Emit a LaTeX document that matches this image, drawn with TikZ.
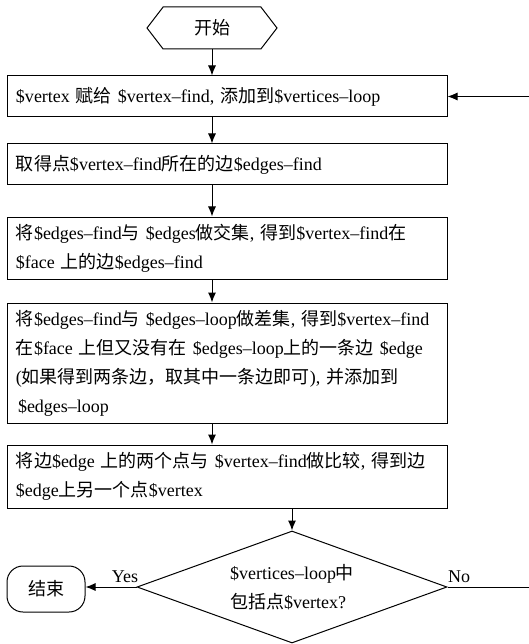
\documentclass[tikz,border=0pt]{standalone}
\usepackage{fontspec}
\setmainfont{Liberation Serif}
\newfontfamily\cjk{Noto Sans CJK SC}
\newcommand{\zh}[1]{{\cjk #1}}
\usepackage{tikz}
\usetikzlibrary{shapes.geometric, shapes.symbols, arrows.meta, positioning}

\begin{document}
\begin{tikzpicture}[
    x=1pt, y=1pt,
    font=\fontsize{18}{29}\selectfont,
    line width=1pt,
    startstop/.style={draw, signal, signal to=east and west, signal pointer angle=105, minimum width=130pt, minimum height=42pt, inner sep=0pt},
    process/.style={draw, rectangle, text width=422pt, inner xsep=9pt, inner ysep=2pt, align=left},
    decision/.style={draw, diamond, aspect=2.77, minimum width=310pt, minimum height=112pt, inner sep=0pt, align=left},
    terminal/.style={draw, rectangle, rounded corners=16pt, minimum width=78pt, minimum height=46pt},
    arrow/.style={->, >={Latex[length=10pt, width=8pt]}}
]
\useasboundingbox (0,0) rectangle (528,-644);

% Nodes
\node[startstop] (start) at (212,-28) {\zh{开始}};
\node[process, minimum height=41pt] (assign) at (227,-96.5) {\$vertex \zh{赋给} \$vertex--find, \zh{添加到}\$vertices--loop};
\node[process, minimum height=41pt] (getedges) at (227,-164.5) {\zh{取得点}\$vertex--find\zh{所在的边}\$edges--find};
\node[process, minimum height=62pt] (intersect) at (227,-248) {\zh{将}\$edges--find\zh{与} \$edges\zh{做交集}, \zh{得到}\$vertex--find\zh{在}\\\$face \zh{上的边}\$edges--find};
\node[process, minimum height=120pt] (difference) at (227,-363) {\zh{将}\$edges--find\zh{与} \$edges--loop\zh{做差集}, \zh{得到}\$vertex--find\\\zh{在}\$face \zh{上但又没有在} \$edges--loop\zh{上的一条边} \$edge\\(\zh{如果得到两条边，取其中一条边即可}), \zh{并添加到}\\\hspace{2pt}\$edges--loop};
\node[process, minimum height=63pt] (compare) at (227,-476.5) {\zh{将边}\$edge \zh{上的两个点与} \$vertex--find\zh{做比较}, \zh{得到边}\\\$edge\zh{上另一个点}\$vertex};
\node[decision] (check) at (292,-587) {\$vertices--loop\zh{中}\\\zh{包括点}\$vertex?};
\node[terminal] (stop) at (46,-589) {\zh{结束}};
\coordinate (back) at (545,-587);

% Arrows
\draw[arrow] (start.south) -- (start.south |- assign.north);
\draw[arrow] (assign.south -| start) -- (getedges.north -| start);
\draw[arrow] (getedges.south -| start) -- (intersect.north -| start);
\draw[arrow] (intersect.south -| start) -- (difference.north -| start);
\draw[arrow] (difference.south -| start) -- (compare.north -| start);
\draw[arrow] (compare.south -| check) -- (check.north);
\draw[arrow] (check.west) -- (stop.east |- check.west);
\draw[arrow] (check.east) -- (back) |- (assign.east);

% Labels
\node (yes) at (125,-577) {Yes};
\node (no) at (459,-577) {No};

\end{tikzpicture}
\end{document}
